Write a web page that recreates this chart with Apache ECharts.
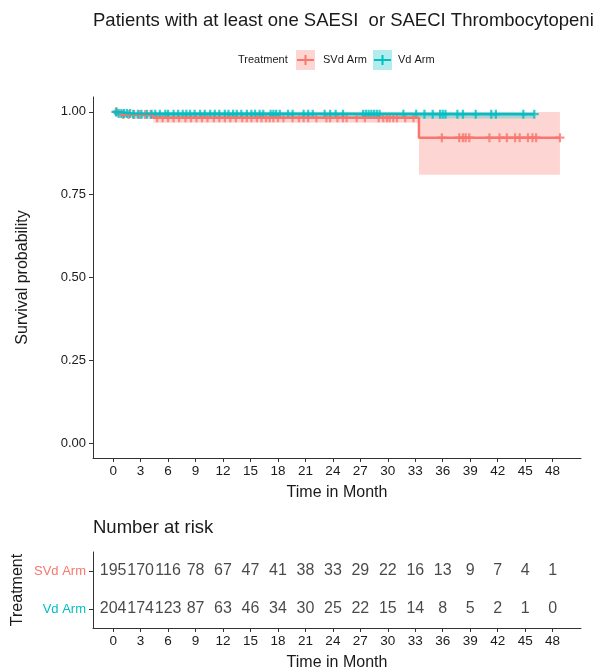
<!DOCTYPE html>
<html>
<head>
<meta charset="utf-8">
<script src="https://cdn.jsdelivr.net/npm/echarts@6/dist/echarts.min.js"></script>
<style>
  html, body { margin: 0; padding: 0; background: #fff; }
  #km-chart { width: 594px; height: 668px; }
</style>
</head>
<body>
<div id="km-chart"></div>
<script>
// tick labels
var timeTicks = [0, 3, 6, 9, 12, 15, 18, 21, 24, 27, 30, 33, 36, 39, 42, 45, 48];
var survTicks = [0, 0.25, 0.5, 0.75, 1];
var arms = ['Vd Arm', 'SVd Arm'];

// KM steps (time, survival)
var svdTime = [0, 0.8, 4.4, 33.4, 48.8];
var svdSurv = [1, 0.992, 0.982, 0.922, 0.922];
var vdTime = [0, 0.6, 2.0, 46.0];
var vdSurv = [1, 0.995, 0.993, 0.993];

// confidence bands (step start, lower, upper)
var svdBandTime = [0, 0.8, 4.4, 33.4, 48.8];
var svdBandLow = [1, 0.985, 0.967, 0.81];
var svdBandHigh = [1, 1, 1, 1];
var vdBandTime = [0, 0.6, 2.0, 46.0];
var vdBandLow = [1, 0.985, 0.98];
var vdBandHigh = [1, 1, 1];

// censored times
var svdCensor = [0.4, 1.1, 1.7, 2.3, 2.9, 3.5, 4.1, 4.8, 5.4, 6.0, 6.6, 7.2, 7.9, 8.5, 9.1, 9.7, 10.3, 11.0,
  11.6, 12.2, 12.8, 13.4, 14.1, 14.6, 15.1, 15.7, 16.2, 16.7, 17.1, 17.5, 18.0, 18.6, 19.6, 20.3, 20.8,
  21.3, 22.2, 23.3, 23.7, 24.5, 25.1, 25.5, 26.6, 27.5, 29.0, 29.5, 29.9, 30.2, 30.6, 31.0, 31.9, 32.8,
  35.9, 37.8, 38.2, 38.5, 38.9, 41.1, 42.2, 43.0, 43.9, 44.4, 45.3, 45.8, 46.2, 48.8];
var vdCensor = [0.3, 0.6, 0.9, 1.2, 1.5, 1.85, 2.2, 2.7, 3.1, 3.7, 4.2, 4.6, 5.1, 5.7, 6.0, 6.6, 7.1, 7.6,
  8.0, 8.4, 8.9, 9.5, 10.0, 10.6, 11.1, 11.6, 12.2, 12.6, 13.1, 13.5, 14.0, 14.6, 15.1, 15.5, 16.0, 16.4,
  17.2, 17.5, 17.8, 18.2, 19.1, 19.6, 20.8, 21.3, 21.8, 23.1, 23.7, 24.3, 25.1, 27.3, 27.6, 27.9, 28.2,
  28.5, 28.8, 29.1, 31.7, 33.1, 34.0, 34.9, 35.7, 36.0, 36.3, 37.6, 38.2, 39.6, 41.3, 41.8, 44.8, 46.0];

// number at risk
var svdRisk = [195, 170, 116, 78, 67, 47, 41, 38, 33, 29, 22, 16, 13, 9, 7, 4, 1];
var vdRisk = [204, 174, 123, 87, 63, 46, 34, 30, 25, 22, 15, 14, 8, 5, 2, 1, 0];

var RED = '#F8766D', CYAN = '#00BFC4';
var RED_FILL = 'rgba(248,118,109,0.3)', CYAN_FILL = 'rgba(0,191,196,0.3)';
var FONT = 'Liberation Sans, Arial, sans-serif';
var INK = '#1a1a1a';
var PLUS = 'path://M3,0H5V3H8V5H5V8H3V5H0V3H3Z';

function stepLine(ts, ss) {
  return ts.map(function (t, i) { return [t, ss[i]]; });
}
function bandRects(ts, lo, hi) {
  var out = [];
  for (var i = 0; i < lo.length; i++) out.push([ts[i], ts[i + 1], lo[i], hi[i]]);
  return out;
}
function survAt(ts, ss, t) {
  var s = ss[0];
  for (var i = 0; i < ts.length; i++) { if (ts[i] <= t) s = ss[i]; }
  return s;
}
function censorPts(cs, ts, ss) {
  return cs.map(function (t) { return [t, survAt(ts, ss, t)]; });
}
function renderBand(fill) {
  return function (params, api) {
    var a = api.coord([api.value(0), api.value(3)]);
    var b = api.coord([api.value(1), api.value(2)]);
    return { type: 'rect', shape: { x: a[0], y: a[1], width: b[0] - a[0], height: b[1] - a[1] },
      style: { fill: fill } };
  };
}
function timeAxis(grid) {
  return {
    gridIndex: grid, type: 'value', min: -2.2, max: 51.1,
    name: 'Time in Month', nameLocation: 'middle', nameGap: 27,
    nameTextStyle: { fontSize: 16, color: INK },
    axisLine: { show: true, onZero: false, lineStyle: { color: '#333', width: 1 } },
    axisTick: { show: true, length: 4, lineStyle: { color: '#333' }, customValues: timeTicks },
    axisLabel: { customValues: timeTicks, fontSize: 13.5, color: INK, margin: 6 },
    splitLine: { show: false }
  };
}
function riskSeries(row, values) {
  return {
    type: 'scatter', xAxisIndex: 1, yAxisIndex: 1, symbolSize: 0,
    label: { show: true, position: 'inside', fontSize: 16, color: INK,
      formatter: function (p) { return p.value[2]; } },
    data: timeTicks.map(function (t, i) { return [t, row, values[i]]; })
  };
}

var chart = echarts.init(document.getElementById('km-chart'));
var option = {
  animation: false,
  textStyle: { fontFamily: FONT },
  title: {
    text: 'Patients with at least one SAESI  or SAECI Thrombocytopenia',
    left: 88, top: 6,
    textStyle: { fontSize: 18.5, fontWeight: 'normal', color: INK, fontFamily: FONT }
  },
  grid: [
    { left: 93, top: 97, width: 488, height: 361, outerBoundsMode: 'none' },
    { left: 93, top: 552, width: 488, height: 76, outerBoundsMode: 'none' }
  ],
  xAxis: [timeAxis(0), timeAxis(1)],
  yAxis: [
    {
      gridIndex: 0, type: 'value', min: -0.045, max: 1.045,
      name: 'Survival probability', nameLocation: 'middle', nameGap: 62, nameRotate: 90,
      nameTextStyle: { fontSize: 16, color: INK },
      axisLine: { show: true, onZero: false, lineStyle: { color: '#333', width: 1 } },
      axisTick: { show: true, length: 4, lineStyle: { color: '#333' }, customValues: survTicks },
      axisLabel: { customValues: survTicks, fontSize: 13, color: INK, margin: 7,
        formatter: function (v) { return v.toFixed(2); } },
      splitLine: { show: false }
    },
    {
      gridIndex: 1, type: 'category',
      data: [
        { value: arms[0], textStyle: { color: CYAN } },
        { value: arms[1], textStyle: { color: RED } }
      ],
      name: 'Treatment', nameLocation: 'middle', nameGap: 67, nameRotate: 90, nameMoveOverlap: false,
      nameTextStyle: { fontSize: 16, color: INK },
      axisLine: { show: true, onZero: false, lineStyle: { color: '#333', width: 1 } },
      axisTick: { show: true, length: 4, alignWithLabel: true, lineStyle: { color: '#333' } },
      axisLabel: { fontSize: 13, margin: 7 },
      splitLine: { show: false }
    }
  ],
  graphic: [
    { type: 'text', left: 93, top: 518, style: { text: 'Number at risk', fontSize: 18.5, fill: INK, fontFamily: FONT } },
    { type: 'group', left: 238, top: 50, children: [
      { type: 'text', x: 0, y: 10, style: { text: 'Treatment', fontSize: 11, fill: INK, fontFamily: FONT, verticalAlign: 'middle' } },
      { type: 'rect', shape: { x: 58, y: 0, width: 19, height: 20 }, style: { fill: RED_FILL } },
      { type: 'line', shape: { x1: 59, y1: 10, x2: 76, y2: 10 }, style: { stroke: RED, lineWidth: 2 } },
      { type: 'line', shape: { x1: 67.5, y1: 5, x2: 67.5, y2: 15 }, style: { stroke: RED, lineWidth: 2 } },
      { type: 'text', x: 85, y: 10, style: { text: 'SVd Arm', fontSize: 11, fill: INK, fontFamily: FONT, verticalAlign: 'middle' } },
      { type: 'rect', shape: { x: 135, y: 0, width: 19, height: 20 }, style: { fill: CYAN_FILL } },
      { type: 'line', shape: { x1: 136, y1: 10, x2: 153, y2: 10 }, style: { stroke: CYAN, lineWidth: 2 } },
      { type: 'line', shape: { x1: 144.5, y1: 5, x2: 144.5, y2: 15 }, style: { stroke: CYAN, lineWidth: 2 } },
      { type: 'text', x: 160, y: 10, style: { text: 'Vd Arm', fontSize: 11, fill: INK, fontFamily: FONT, verticalAlign: 'middle' } }
    ] }
  ],
  series: [
    { type: 'custom', xAxisIndex: 0, yAxisIndex: 0, renderItem: renderBand(RED_FILL),
      encode: { x: [0, 1], y: [2, 3] }, data: bandRects(svdBandTime, svdBandLow, svdBandHigh), silent: true },
    { type: 'custom', xAxisIndex: 0, yAxisIndex: 0, renderItem: renderBand(CYAN_FILL),
      encode: { x: [0, 1], y: [2, 3] }, data: bandRects(vdBandTime, vdBandLow, vdBandHigh), silent: true },
    { name: 'SVd Arm', type: 'line', step: 'end', xAxisIndex: 0, yAxisIndex: 0, showSymbol: false,
      lineStyle: { color: RED, width: 2.5 }, data: stepLine(svdTime, svdSurv) },
    { type: 'scatter', xAxisIndex: 0, yAxisIndex: 0, symbol: PLUS, symbolSize: 9,
      itemStyle: { color: RED }, data: censorPts(svdCensor, svdTime, svdSurv) },
    { name: 'Vd Arm', type: 'line', step: 'end', xAxisIndex: 0, yAxisIndex: 0, showSymbol: false,
      lineStyle: { color: CYAN, width: 2.5 }, data: stepLine(vdTime, vdSurv) },
    { type: 'scatter', xAxisIndex: 0, yAxisIndex: 0, symbol: PLUS, symbolSize: 9,
      itemStyle: { color: CYAN }, data: censorPts(vdCensor, vdTime, vdSurv) },
    riskSeries(arms[1], svdRisk),
    riskSeries(arms[0], vdRisk)
  ]
};
chart.setOption(option);
</script>
</body>
</html>
